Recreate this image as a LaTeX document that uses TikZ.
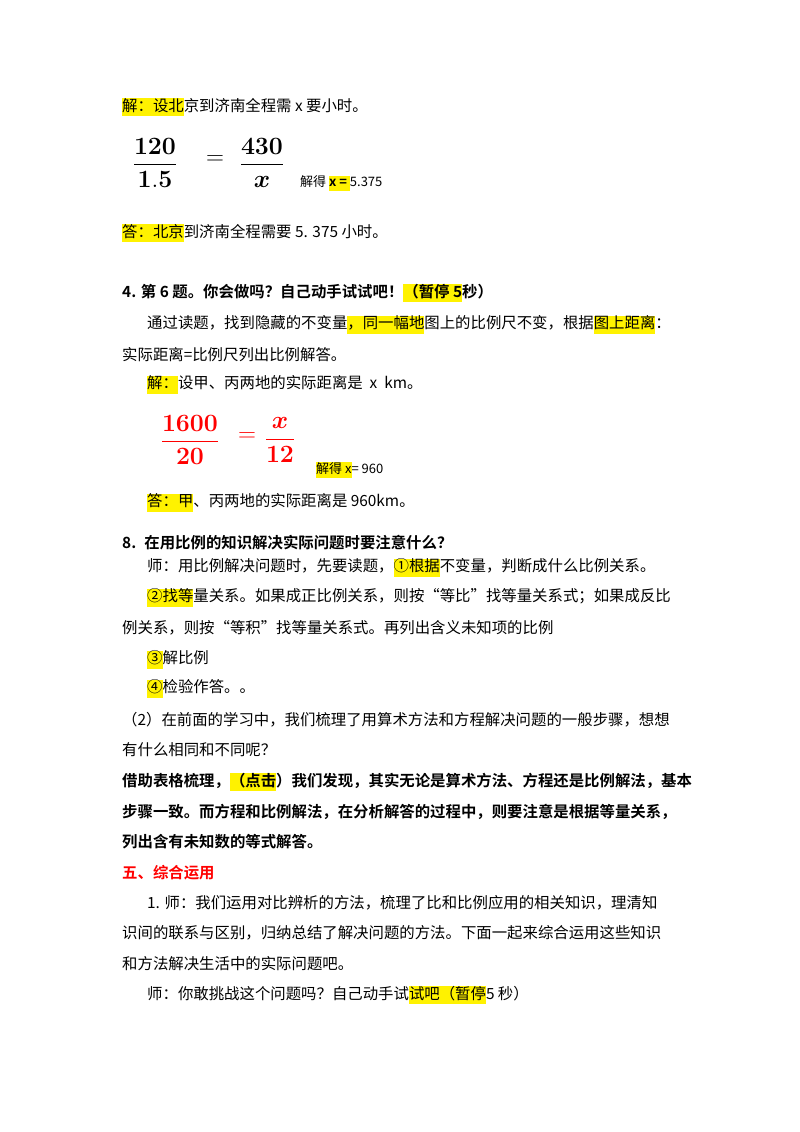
\documentclass[tikz,border=0pt]{standalone}
\usepackage[no-math]{fontspec}
\setmainfont{Noto Sans CJK SC}[BoldFont={Noto Sans CJK SC Bold}]
\usepackage{amsmath}
\usetikzlibrary{positioning}
\newcommand\hl[1]{{\setlength\fboxsep{0pt}\colorbox{yellow}{\strut #1}}}

\begin{document}
\begin{tikzpicture}[
    x=1pt, y=-1pt,
    line/.style={anchor=west, inner sep=0pt, font=\fontsize{15.4}{17}\selectfont},
    head/.style={line, font=\fontsize{15.4}{17}\selectfont\bfseries},
    small/.style={anchor=west, inner sep=0pt, font=\fontsize{13}{15}\selectfont},
    frac/.style={inner sep=0pt, font=\fontsize{27}{32}\selectfont},
    redfrac/.style={frac, text=red}
]
\useasboundingbox (0,0) rectangle (800,1132);

% --- first problem ---
\node[line] (l1) at (122,107) {\hl{解：设北}京到济南全程需 x 要小时。};
\node[frac] (f1) at (155,163) {$\dfrac{\mathbf{120}}{\mathbf{1.5}}$};
\node[frac] (eq1) at (215,160) {$\mathbf{=}$};
\node[frac] (f2) at (262,163) {$\dfrac{\mathbf{430}}{\boldsymbol{x}}$};
\node[small] (sol1) at (300,183) {解得 \hl{\textbf{x =} }5.375};
\node[line] (ans1) at (122,233) {\hl{答：北京}到济南全程需要 5. 375 小时。};

% --- question 4 ---
\node[head] (q4) at (122,293) {4. 第 6 题。你会做吗？自己动手试试吧！\hl{（暂停 5}秒）};
\node[line] (p1) at (147,325) {通过读题，找到隐藏的不变量\hl{，同一幅地}图上的比例尺不变，根据\hl{图上距离}：};
\node[line] (p2) at (122,355) {实际距离=比例尺列出比例解答。};
\node[line] (p3) at (147,385) {\hl{解：}设甲、丙两地的实际距离是 \ x \ km。};
\node[redfrac] (f3) at (190,440) {$\dfrac{\mathbf{1600}}{\mathbf{20}}$};
\node[redfrac] (eq2) at (247,437) {$\mathbf{=}$};
\node[redfrac] (f4) at (280,440) {$\dfrac{\boldsymbol{x}}{\mathbf{12}}$};
\node[small] (sol2) at (316,470) {\hl{解得 x}=\ 960};
\node[line] (ans2) at (147,503) {\hl{答：甲}、丙两地的实际距离是 960km。};

% --- question 8 ---
\node[head] (q8) at (122,543) {8. \ 在用比例的知识解决实际问题时要注意什么？};
\node[line] (s1) at (147,568) {师：用比例解决问题时，先要读题，\hl{①根据}不变量，判断成什么比例关系。};
\node[line] (s2) at (147,598) {\hl{②找等}量关系。如果成正比例关系，则按“等比”找等量关系式；如果成反比};
\node[line] (s3) at (122,628) {例关系，则按“等积”找等量关系式。再列出含义未知项的比例};
\node[line] (s4) at (147,660) {\hl{③}解比例};
\node[line] (s5) at (147,689) {\hl{④}检验作答。。};
\node[line] (s6) at (122,720) {（2）在前面的学习中，我们梳理了用算术方法和方程解决问题的一般步骤，想想};
\node[line] (s7) at (122,750) {有什么相同和不同呢？};
\node[head] (b1) at (122,782) {借助表格梳理，\hl{（点击}）我们发现，其实无论是算术方法、方程还是比例解法，基本};
\node[head] (b2) at (122,812) {步骤一致。而方程和比例解法，在分析解答的过程中，则要注意是根据等量关系，};
\node[head] (b3) at (122,842) {列出含有未知数的等式解答。};

% --- part five ---
\node[head, text=red] (sec5) at (122,873) {五、综合运用};
\node[line] (t1) at (147,903) {1. 师：我们运用对比辨析的方法，梳理了比和比例应用的相关知识，理清知};
\node[line] (t2) at (122,933) {识间的联系与区别，归纳总结了解决问题的方法。下面一起来综合运用这些知识};
\node[line] (t3) at (122,964) {和方法解决生活中的实际问题吧。};
\node[line] (t4) at (147,995) {师：你敢挑战这个问题吗？自己动手试\hl{试吧（暂停}5 秒）};

\end{tikzpicture}
\end{document}
